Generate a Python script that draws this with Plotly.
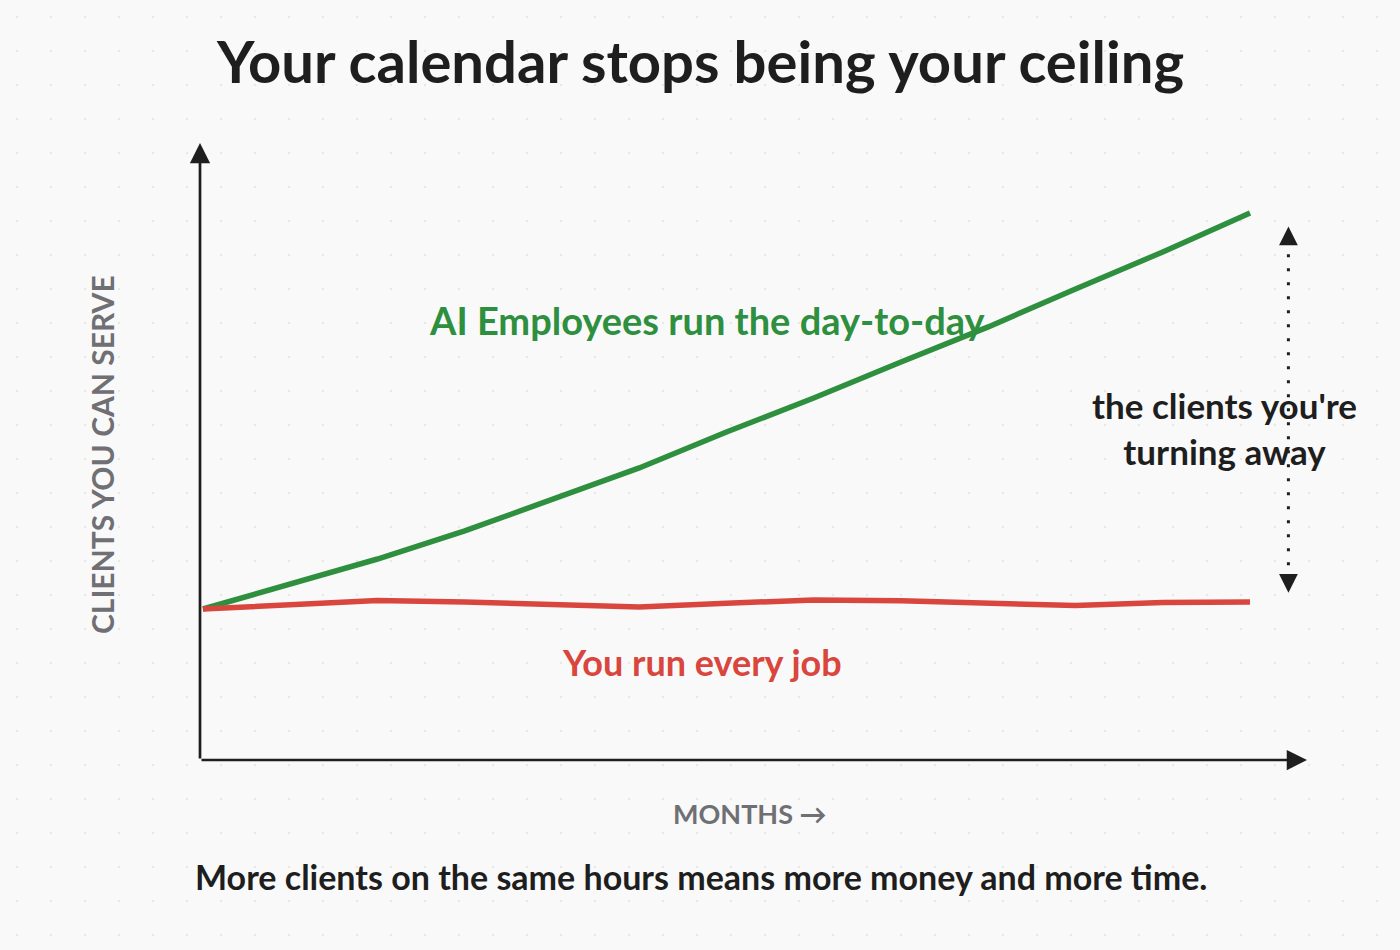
import plotly.graph_objects as go
import urllib.parse

# ---- data ----
months = [0, 1, 2, 3, 4, 5, 6, 7, 8, 9, 10, 11, 12]
ai_employees = [10.0, 11.66, 13.31, 15.17, 17.28, 19.34, 21.72, 23.97, 26.36, 28.68, 31.19, 33.64, 36.23]
you_run_every_job = [10.0, 10.30, 10.57, 10.46, 10.26, 10.13, 10.38, 10.60, 10.54, 10.36, 10.23, 10.43, 10.47]

title_text = "Your calendar stops being your ceiling"
green_label = "AI Employees run the day-to-day"
red_label = "You run every job"
gap_label = "the clients you're<br>turning away"
y_title = "CLIENTS YOU CAN SERVE"
x_title = "MONTHS →"
footer = "More clients on the same hours means more money and more time."

GREEN = "#2e8f3e"
RED = "#d9463d"
INK = "#1e1e1e"
GREY = "#6f6f74"
FONT = "Lato, 'Noto Sans', sans-serif"

fig = go.Figure()
fig.add_trace(go.Scatter(x=months, y=ai_employees, mode="lines",
                         line=dict(color=GREEN, width=5.5), name="AI Employees",
                         hoverinfo="skip"))
fig.add_trace(go.Scatter(x=months, y=you_run_every_job, mode="lines",
                         line=dict(color=RED, width=5.5), name="You",
                         hoverinfo="skip"))

# dotted background grid via an SVG pattern
svg = ('<svg xmlns="http://www.w3.org/2000/svg" width="1400" height="950">'
       '<defs><pattern id="p" x="0" y="0" width="34" height="34" patternUnits="userSpaceOnUse">'
       '<circle cx="17" cy="17" r="1.2" fill="#e8e8e8"/></pattern></defs>'
       '<rect width="1400" height="950" fill="url(#p)"/></svg>')
src = "data:image/svg+xml;charset=utf-8," + urllib.parse.quote(svg)

L, R, T, B = 200, 93, 143, 190
W, H = 1400, 950
pw, ph = W - L - R, H - T - B

fig.add_layout_image(dict(source=src, xref="paper", yref="paper",
                          x=-L / pw, y=1 + T / ph, sizex=W / pw, sizey=H / ph,
                          xanchor="left", yanchor="top", sizing="stretch",
                          layer="below"))

# axes drawn as arrows
for hx, hy in [(0, 1), (1, 0)]:
    fig.add_annotation(x=hx, y=hy, ax=0, ay=0, xref="x domain", yref="y domain",
                       axref="x domain", ayref="y domain", showarrow=True,
                       arrowhead=2, arrowsize=1.5, arrowwidth=2.7, arrowcolor=INK,
                       text="", standoff=0)

# gap arrow (dotted, double headed)
gx = months[-1] + 0.44
top = ai_employees[-1] - 0.9
bot = you_run_every_job[-1] + 0.6
fig.add_shape(type="line", x0=gx, x1=gx, y0=bot + 0.9, y1=top - 0.9,
              line=dict(color=INK, width=3, dash="3px,11px"))
fig.add_annotation(x=gx, y=top, ax=gx, ay=top - 1.2, xref="x", yref="y",
                   axref="x", ayref="y", showarrow=True, arrowhead=2,
                   arrowsize=1.5, arrowwidth=2.5, arrowcolor=INK, text="", standoff=0)
fig.add_annotation(x=gx, y=bot, ax=gx, ay=bot + 1.2, xref="x", yref="y",
                   axref="x", ayref="y", showarrow=True, arrowhead=2,
                   arrowsize=1.5, arrowwidth=2.5, arrowcolor=INK, text="", standoff=0)


def px_ann(text, xpx, ypx, size, color, angle=0, weight="bold"):
    fig.add_annotation(x=(xpx - L) / pw, y=(H - B - ypx) / ph, xref="paper", yref="paper",
                       text=text, showarrow=False, textangle=angle, align="center",
                       font=dict(family=FONT, size=size, color=color, weight=weight),
                       xanchor="center", yanchor="middle")


px_ann(title_text, 700, 60, 58, INK)
px_ann(green_label, 707, 320, 38, GREEN)
px_ann(red_label, 702, 662, 36, RED)
px_ann(gap_label, 1224, 428, 35, INK)
px_ann(y_title, 102, 455, 30, GREY, angle=-90)
px_ann(x_title, 750, 813, 27, GREY)
px_ann(footer, 701, 876, 34, INK)

fig.update_xaxes(visible=False, range=[-0.034, 12.653], fixedrange=True)
fig.update_yaxes(visible=False, range=[0, 40.86], fixedrange=True)
fig.update_layout(width=W, height=H, margin=dict(l=L, r=R, t=T, b=B),
                  paper_bgcolor="#f9f9f9", plot_bgcolor="rgba(0,0,0,0)",
                  showlegend=False)

fig.write_html("out.html", config={"displayModeBar": False},
               post_script="document.body.style.margin='0px';"
                           "document.body.style.background='#f9f9f9';")
